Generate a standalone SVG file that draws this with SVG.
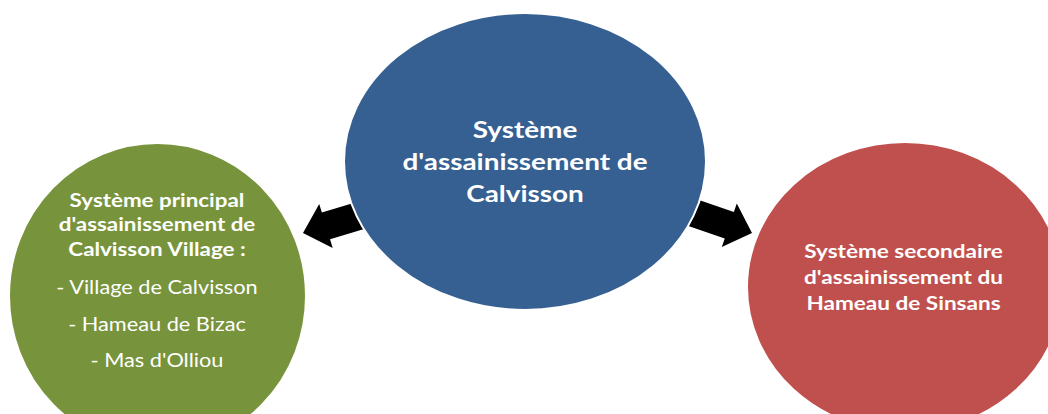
<svg xmlns="http://www.w3.org/2000/svg" width="1048" height="414" viewBox="0 0 1048 414">
<style>
.node{stroke:#ffffff;stroke-width:2}
.t{font-family:Lato,"Open Sans","Liberation Sans",sans-serif;fill:#ffffff;text-anchor:middle}
.b{font-weight:bold}
.arrow{fill:#000000}
</style>
<defs>
<path id="blockArrow" d="M-64,-14 L-24,-14 L-24,-23 L0,0 L-24,23 L-24,14 L-64,14 Z"/>
</defs>
<rect width="1048" height="414" fill="#ffffff"/>
<g id="connectors">
<use href="#blockArrow" class="arrow" transform="translate(303,233) rotate(163)"/>
<use href="#blockArrow" class="arrow" transform="translate(752,233) rotate(19)"/>
</g>
<g id="node-central">
<ellipse class="node" cx="525" cy="161.5" rx="181" ry="148.5" fill="#376092"/>
<text class="t b" font-size="22.5" transform="translate(525 0) scale(1.24 1)"><tspan x="0" y="138">Système</tspan><tspan x="0" y="170">d'assainissement de</tspan><tspan x="0" y="202">Calvisson</tspan></text>
</g>
<g id="node-principal">
<ellipse class="node" cx="157.5" cy="296" rx="148.5" ry="153" fill="#77933C"/>
<text class="t b" font-size="18.5" transform="translate(157 0) scale(1.21 1)"><tspan x="0" y="207">Système principal</tspan><tspan x="0" y="231.5">d'assainissement de</tspan><tspan x="0" y="256">Calvisson Village :</tspan></text>
<text class="t" font-size="18.5" transform="translate(157 0) scale(1.175 1)"><tspan x="0" y="294">- Village de Calvisson</tspan><tspan x="0" y="331">- Hameau de Bizac</tspan><tspan x="0" y="367">- Mas d'Olliou</tspan></text>
</g>
<g id="node-secondaire">
<ellipse class="node" cx="905" cy="287" rx="158" ry="145" fill="#C0504D"/>
<text class="t b" font-size="18.5" transform="translate(903.5 0) scale(1.22 1)"><tspan x="0" y="258.5">Système secondaire</tspan><tspan x="0" y="284.5">d'assainissement du</tspan><tspan x="0" y="310">Hameau de Sinsans</tspan></text>
</g>
</svg>
